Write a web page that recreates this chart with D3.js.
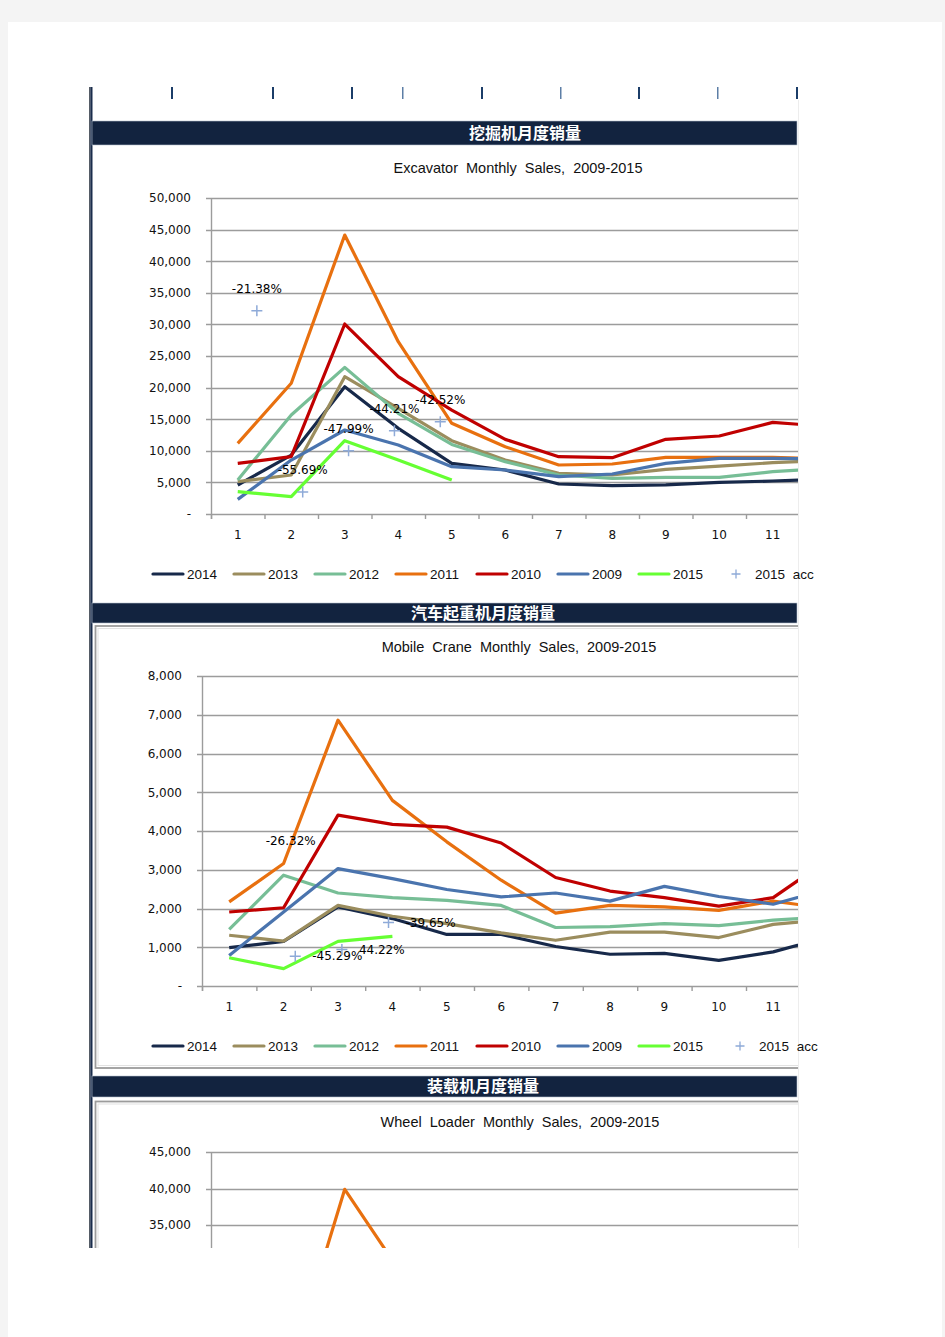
<!DOCTYPE html>
<html><head><meta charset="utf-8">
<script src="https://cdn.jsdelivr.net/npm/d3@7"></script>
<style>
body{margin:0;background:#f4f4f4;}
svg{display:block;}
</style></head>
<body>
<script>
// ---------------- DATA ----------------
const months = [1,2,3,4,5,6,7,8,9,10,11,12];
const seriesNames = ["2014","2013","2012","2011","2010","2009","2015"];
const accName = "2015 acc";

// Excavator monthly sales
const exc2014 = [4590, 9330, 20140, 13560, 8020, 6960, 4750, 4480, 4600, 5010, 5220, 5550];
const exc2013 = [5110, 6170, 21730, 16720, 11600, 8540, 6440, 6170, 7070, 7590, 8120, 8450];
const exc2012 = [5380, 15660, 23200, 15930, 11000, 8280, 6170, 5650, 5800, 5800, 6700, 7200];
const exc2011 = [11180, 20680, 44140, 27260, 14350, 10650, 7750, 7910, 8960, 8960, 8960, 8700];
const exc2010 = [8020, 9070, 30060, 21730, 16450, 11810, 9070, 8910, 11810, 12340, 14500, 13860];
const exc2009 = [2320, 8540, 13290, 10920, 7490, 6960, 5910, 6330, 8020, 8810, 8810, 8700];
const exc2015 = [3530, 2740, 11600, 8540, 5380];
const excAcc = [32160, 3480, 10010, 13180, 14600];
const excAccLabels = ["-21.38%", "-55.69%", "-47.99%", "-44.21%", "-42.52%"];
const excAccMarkerShown = [true, true, true, true, true];

// Mobile crane monthly sales
const cr2014 = [990, 1150, 2040, 1740, 1330, 1330, 1020, 820, 840, 660, 880, 1260];
const cr2013 = [1310, 1160, 2080, 1800, 1610, 1370, 1180, 1390, 1390, 1250, 1590, 1720];
const cr2012 = [1460, 2860, 2400, 2280, 2210, 2080, 1510, 1530, 1610, 1560, 1700, 1780];
const cr2011 = [2170, 3160, 6860, 4790, 3720, 2730, 1880, 2080, 2040, 1950, 2190, 2000];
const cr2010 = [1910, 2020, 4410, 4170, 4100, 3690, 2800, 2450, 2280, 2060, 2280, 3250];
const cr2009 = [790, 1910, 3030, 2770, 2490, 2300, 2400, 2190, 2570, 2310, 2110, 2500];
const cr2015 = [730, 450, 1150, 1280];
const crAcc = [3760, 770, 940, 1640];
const crAccLabels = ["-26.32%", "-45.29%", "44.22%", "-39.65%"];
const crAccMarkerShown = [false, true, true, true];

// Wheel loader monthly sales (only the top of the chart is visible)
const wl2014 = [14000, 11500, 27500, 21000, 16500, 12500, 9800, 9300, 9800, 10300, 9000, 8200];
const wl2013 = [13500, 12500, 29000, 24000, 18500, 14000, 10500, 10200, 11000, 11500, 10500, 9800];
const wl2012 = [15000, 17500, 30500, 25000, 19000, 14500, 10500, 10000, 10800, 11000, 10500, 10000];
const wl2011 = [16000, 15900, 39900, 29000, 22500, 17000, 13500, 13000, 14500, 14000, 13000, 12000];
const wl2010 = [12000, 11000, 28000, 26000, 22000, 17500, 14000, 13500, 16000, 15500, 15000, 14500];
const wl2009 = [6000, 9500, 17000, 15500, 13000, 11500, 9500, 10000, 12500, 13000, 12500, 12000];
const wl2015 = [10500, 7000, 16500, 14000];
const wlAcc = [];
const wlAccLabels = [];
const wlAccMarkerShown = [];

const yTicksExc = [0,5000,10000,15000,20000,25000,30000,35000,40000,45000,50000];
const yTicksCr = [0,1000,2000,3000,4000,5000,6000,7000,8000];
const yTicksWl = [0,5000,10000,15000,20000,25000,30000,35000,40000,45000];

const bandTitles = ["挖掘机月度销量", "汽车起重机月度销量", "装载机月度销量"];
const chartTitles = ["Excavator Monthly Sales, 2009-2015", "Mobile Crane Monthly Sales, 2009-2015", "Wheel Loader Monthly Sales, 2009-2015"];

// ---------------- STYLE ----------------
const colors = ["#17294a", "#9b8d5e", "#77be96", "#e8700f", "#c00000", "#4a74ae", "#66ff33"];
const accColor = "#8eaad8";
const VIEW_BOTTOM = 1248, SHEET_RIGHT = 798;

const W = 945, H = 1337;
const svg = d3.select("body").append("svg").attr("width", W).attr("height", H);
const defs = svg.append("defs");
defs.append("clipPath").attr("id","plotClip").append("rect").attr("x",0).attr("y",0).attr("width",SHEET_RIGHT).attr("height",VIEW_BOTTOM);
defs.append("clipPath").attr("id","pageClip").append("rect").attr("x",0).attr("y",0).attr("width",W).attr("height",VIEW_BOTTOM);

// page
svg.append("rect").attr("x",8).attr("y",22).attr("width",934).attr("height",H-22).attr("fill","#ffffff");

const page = svg.append("g").attr("clip-path","url(#pageClip)");
const sheet = page.append("g").attr("clip-path","url(#plotClip)");

// left dark rule
page.append("rect").attr("x",89).attr("y",87).attr("width",1.3).attr("height",1200).attr("fill","#555c66");
page.append("rect").attr("x",90.3).attr("y",87).attr("width",2.2).attr("height",1200).attr("fill","#1a2d4c");

// top column marks
const colMarks = [172, 273, 352, 403, 482, 561, 639, 718, 797];
const colMarkLight = [false,false,false,true,false,true,false,true,false];
colMarks.forEach((cx,i)=>{
  page.append("rect").attr("x",cx-1).attr("y",87).attr("width",colMarkLight[i]?1.5:2).attr("height",12)
    .attr("fill", colMarkLight[i] ? "#5d7ea6" : "#1b3d68");
});

// frames (clipped at sheet edge)
sheet.append("rect").attr("x",95.5).attr("y",626).attr("width",760).attr("height",442)
  .attr("fill","none").attr("stroke","#9c9c9c").attr("stroke-width",1.8);
sheet.append("rect").attr("x",98).attr("y",628.5).attr("width",760).attr("height",437)
  .attr("fill","none").attr("stroke","#e2e2e2").attr("stroke-width",1);
sheet.append("rect").attr("x",95.5).attr("y",1101.5).attr("width",760).attr("height",400)
  .attr("fill","none").attr("stroke","#9c9c9c").attr("stroke-width",1.8);
sheet.append("rect").attr("x",98).attr("y",1104).attr("width",760).attr("height",400)
  .attr("fill","none").attr("stroke","#e2e2e2").attr("stroke-width",1);
page.append("line").attr("x1",798.5).attr("x2",798.5).attr("y1",100).attr("y2",1248)
  .attr("stroke","#ededed").attr("stroke-width",1);

// bands
const bands = [
  {y:121, h:24, cx:525},
  {y:603, h:20, cx:483},
  {y:1076, h:21, cx:483}
];
bands.forEach((b,i)=>{
  page.append("rect").attr("x",92).attr("y",b.y).attr("width",705).attr("height",b.h)
    .attr("fill","#12233f").attr("stroke","#b9c3cf").attr("stroke-width",0.6);
  page.append("text").attr("x",b.cx).attr("y",b.y+b.h/2).attr("dy","0.36em")
    .attr("text-anchor","middle").attr("fill","#ffffff")
    .attr("font-family","'Noto Sans CJK SC', sans-serif").attr("font-weight","bold").attr("font-size",16)
    .text(bandTitles[i]);
});

const charts = [
  {title:chartTitles[0], titleX:518, titleY:168, left:211, top:198, bottom:514, bw:53.5,
   yTicks:yTicksExc, series:[exc2014,exc2013,exc2012,exc2011,exc2010,exc2009,exc2015],
   acc:excAcc, accLabels:excAccLabels, accShown:excAccMarkerShown, labelMode:"above", legendY:574, accLegendX:736, legendStep:81},
  {title:chartTitles[1], titleX:519, titleY:647, left:202, top:676, bottom:986, bw:54.4,
   yTicks:yTicksCr, series:[cr2014,cr2013,cr2012,cr2011,cr2010,cr2009,cr2015],
   acc:crAcc, accLabels:crAccLabels, accShown:crAccMarkerShown, labelMode:"right", legendY:1046, accLegendX:740, legendStep:81},
  {title:chartTitles[2], titleX:520, titleY:1122, left:211, top:1152, bottom:1481, bw:53.5,
   yTicks:yTicksWl, series:[wl2014,wl2013,wl2012,wl2011,wl2010,wl2009,wl2015],
   acc:wlAcc, accLabels:wlAccLabels, accShown:wlAccMarkerShown, labelMode:"right", legendY:1541, accLegendX:736, legendStep:81}
];

const crossPath = "M-5.5,0H5.5M0,-5.5V5.5";
const visible = yy => yy < VIEW_BOTTOM - 4;

charts.forEach(c=>{
  const g = page.append("g");
  const plotW = c.bw*12;
  const x = d3.scaleBand().domain(months).range([c.left, c.left+plotW]).paddingInner(0).paddingOuter(0);
  const xAcc = d3.scaleLinear().domain([0,14]).range([c.left, c.left+plotW]);
  const yMax = c.yTicks[c.yTicks.length-1];
  const y = d3.scaleLinear().domain([0,yMax]).range([c.bottom, c.top]);
  const cx = m => x(m) + x.bandwidth()/2;

  // title
  g.append("text").attr("x",c.titleX).attr("y",c.titleY).attr("dy","0.35em").attr("text-anchor","middle")
    .attr("font-family","'Liberation Sans', Arial, sans-serif").attr("font-size",14.5).attr("word-spacing","4px")
    .attr("fill","#111").text(c.title);

  const plot = g.append("g").attr("clip-path","url(#plotClip)");

  // gridlines
  plot.selectAll(".grid").data(c.yTicks).join("line")
    .attr("x1",c.left-5).attr("x2",c.left+plotW)
    .attr("y1",d=>Math.round(y(d))+0.5).attr("y2",d=>Math.round(y(d))+0.5)
    .attr("stroke","#9c9c9c").attr("stroke-width",1.4);

  // y axis line
  plot.append("line").attr("x1",c.left+0.5).attr("x2",c.left+0.5).attr("y1",c.top).attr("y2",c.bottom+5)
    .attr("stroke","#9c9c9c").attr("stroke-width",1.4);
  // x tick marks at category boundaries
  plot.selectAll(".xt").data(months).join("line")
    .attr("x1",d=>x(d)+0.5).attr("x2",d=>x(d)+0.5).attr("y1",c.bottom).attr("y2",c.bottom+5)
    .attr("stroke","#9c9c9c").attr("stroke-width",1.4);

  // y axis labels (only those inside the visible sheet)
  const yAxis = d3.axisLeft(y).tickValues(c.yTicks.filter(v=>visible(y(v)))).tickSize(0).tickPadding(20)
    .tickFormat(d => d===0 ? "-  " : d3.format(",")(d));
  const ya = g.append("g").attr("transform",`translate(${c.left},0)`).call(yAxis);
  ya.select(".domain").remove();
  ya.selectAll("text").attr("font-family","'DejaVu Sans', Verdana, sans-serif").attr("font-size",12).attr("fill","#111");

  // x axis labels
  if (visible(c.bottom + 22)) {
    const xAxis = d3.axisBottom(x).tickValues(months.filter(m=>cx(m) < SHEET_RIGHT)).tickSize(0).tickPadding(16);
    const xa = plot.append("g").attr("transform",`translate(0,${c.bottom})`).call(xAxis);
    xa.select(".domain").remove();
    xa.selectAll("text").attr("font-family","'DejaVu Sans', Verdana, sans-serif").attr("font-size",12).attr("fill","#111");
  }

  // lines
  const line = d3.line().x((d,i)=>cx(months[i])).y(d=>y(d));
  c.series.forEach((s,si)=>{
    plot.append("path").datum(s).attr("d",line).attr("fill","none")
      .attr("stroke",colors[si]).attr("stroke-width",3.2).attr("stroke-linejoin","round");
  });

  // acc markers + labels
  c.acc.forEach((v,i)=>{
    const px = xAcc(i+1), py = y(v);
    if (c.accShown[i]) {
      plot.append("path").attr("d",crossPath).attr("transform",`translate(${px},${py})`)
        .attr("stroke",accColor).attr("stroke-width",1.5).attr("fill","none");
    }
    const t = plot.append("text").attr("font-family","'DejaVu Sans', Verdana, sans-serif")
      .attr("font-size",12).attr("fill","#000").text(c.accLabels[i]);
    if (c.labelMode==="above") {
      t.attr("x",px).attr("y",py-22).attr("dy","0.35em").attr("text-anchor","middle");
    } else {
      t.attr("x",px+17).attr("y",py).attr("dy","0.35em").attr("text-anchor","start");
    }
  });

  // legend
  if (visible(c.legendY)) {
    const lg = g.append("g");
    seriesNames.forEach((n,i)=>{
      const lx = 153 + i*c.legendStep;
      lg.append("line").attr("x1",lx).attr("x2",lx+30).attr("y1",c.legendY).attr("y2",c.legendY)
        .attr("stroke",colors[i]).attr("stroke-width",3.2).attr("stroke-linecap","round");
      lg.append("text").attr("x",lx+34).attr("y",c.legendY).attr("dy","0.36em")
        .attr("font-family","'Liberation Sans', Arial, sans-serif").attr("font-size",13.5).attr("fill","#111").text(n);
    });
    lg.append("path").attr("d","M-4.5,0H4.5M0,-4.5V4.5").attr("transform",`translate(${c.accLegendX},${c.legendY})`)
      .attr("stroke",accColor).attr("stroke-width",1.3).attr("fill","none");
    lg.append("text").attr("x",c.accLegendX+19).attr("y",c.legendY).attr("dy","0.36em")
      .attr("font-family","'Liberation Sans', Arial, sans-serif").attr("font-size",13.5).attr("word-spacing","4px")
      .attr("fill","#111").text(accName);
  }
});
</script>
</body></html>
